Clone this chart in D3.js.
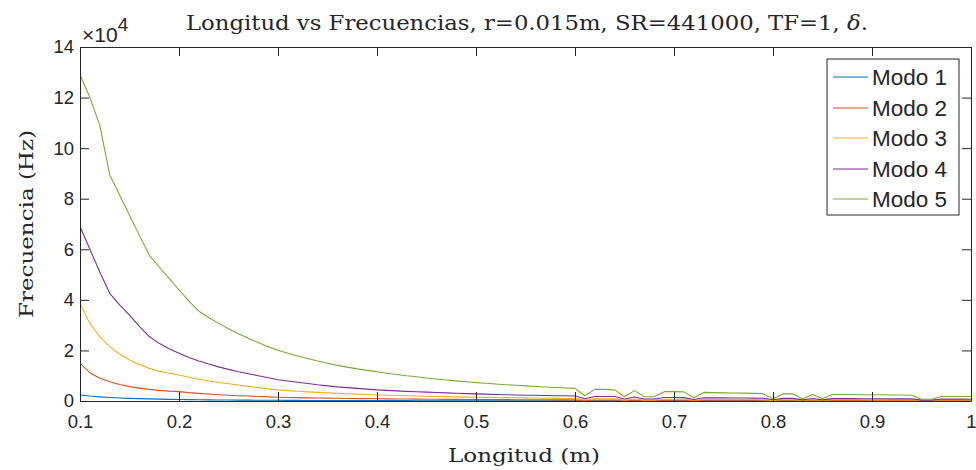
<!DOCTYPE html>
<html>
<head>
<meta charset="utf-8">
<script src="https://d3js.org/d3.v7.min.js"></script>
<style>
  body { margin: 0; background: #fff; }
  svg text { fill: #262626; }
</style>
</head>
<body>
<svg id="chart"></svg>
<script>
var width = 976,
    height = 470

// lengths (m), 0.10 ... 1.00
var longitud = d3.range(91).map(function(i) { return +(0.1 + i * 0.01).toFixed(2) })

// frequencies in kHz
var modo1 = [2.4,1.95,1.65,1.4,1.2,1.05,0.93,0.83,0.74,0.66,0.6,0.55,0.5,0.46,0.42,0.39,0.36,0.33,0.31,0.29,
  0.27,0.25,0.24,0.22,0.21,0.2,0.19,0.18,0.17,0.16,0.15,0.145,0.14,0.13,0.125,0.12,0.115,0.11,0.105,0.1,
  0.1,0.095,0.09,0.088,0.085,0.082,0.08,0.077,0.075,0.072,0.07,
  0.03,0.068,0.068,0.066,0.03,0.065,0.03,0.03,0.064,0.064,0.063,0.03,0.062,0.062,0.061,0.06,0.06,0.06,0.059,
  0.02,0.058,0.058,0.02,0.057,0.02,0.056,0.056,0.056,0.055,0.055,0.055,0.054,0.054,0.054,0.02,0.02,0.052,0.052,0.052,0.052]
var modo2 = [14.9,11.2,9.0,7.6,6.5,5.7,5.1,4.6,4.2,3.9,3.7,3.3,3.0,2.75,2.5,2.3,2.1,1.95,1.8,1.65,
  1.5,1.4,1.32,1.25,1.18,1.12,1.06,1.0,0.95,0.92,0.88,0.84,0.8,0.77,0.74,0.71,0.68,0.66,0.64,0.62,
  0.6,0.58,0.56,0.54,0.52,0.5,0.49,0.47,0.46,0.45,0.44,
  0.2,0.42,0.42,0.41,0.18,0.38,0.17,0.17,0.35,0.35,0.34,0.15,0.32,0.32,0.31,0.3,0.3,0.29,0.28,
  0.13,0.27,0.27,0.12,0.25,0.12,0.25,0.24,0.24,0.24,0.23,0.23,0.22,0.22,0.22,0.1,0.1,0.2,0.2,0.2,0.2]
var modo3 = [38.6,30.7,25.4,21.5,18.6,16.2,14.4,12.9,11.8,11.0,10.3,9.4,8.6,7.9,7.3,6.8,6.3,5.8,5.3,4.8,
  4.4,4.1,3.85,3.6,3.4,3.2,3.0,2.85,2.7,2.55,2.4,2.3,2.2,2.1,2.0,1.9,1.8,1.72,1.65,1.55,
  1.5,1.45,1.4,1.35,1.3,1.25,1.2,1.1,1.05,1.0,0.95,
  0.4,0.9,0.9,0.85,0.35,0.8,0.35,0.35,0.7,0.7,0.7,0.3,0.65,0.65,0.6,0.6,0.6,0.6,0.55,
  0.25,0.55,0.55,0.25,0.5,0.25,0.5,0.5,0.5,0.5,0.45,0.45,0.45,0.45,0.45,0.2,0.2,0.4,0.4,0.4,0.4]
var modo4 = [69,60,51,42.6,38,34,29.5,25.5,22.8,20.7,18.9,17.2,15.8,14.6,13.5,12.5,11.6,10.8,10.0,9.2,
  8.4,7.9,7.4,6.9,6.4,6.0,5.6,5.3,5.0,4.7,4.4,4.2,4.0,3.8,3.65,3.5,3.35,3.2,3.05,2.9,
  2.8,2.7,2.6,2.5,2.4,2.3,2.25,2.2,2.1,2.05,2.0,
  0.9,1.8,1.8,1.75,0.8,1.6,0.8,0.8,1.4,1.4,1.35,0.6,1.3,1.25,1.25,1.2,1.2,1.15,1.1,
  0.5,1.05,1.05,0.45,1.0,0.45,0.95,0.95,0.95,0.9,0.9,0.9,0.85,0.85,0.85,0.35,0.35,0.75,0.75,0.75,0.7]
var modo5 = [129,120,109,89.5,81.5,73.5,65.5,57.7,53,48.5,44,39.5,35.5,33,30.7,28.6,26.6,24.8,23.1,21.5,
  20.1,18.9,17.8,16.8,15.8,14.9,14.1,13.4,12.7,12.1,11.6,11.0,10.5,10.0,9.6,9.1,8.7,8.3,7.95,7.6,
  7.25,7.0,6.7,6.45,6.2,6.0,5.75,5.55,5.35,5.15,5.0,
  2.1,4.6,4.6,4.4,1.7,4.1,1.7,1.7,3.7,3.7,3.6,1.3,3.4,3.3,3.2,3.15,3.1,3.0,2.9,
  0.9,2.8,2.8,0.9,2.6,0.9,2.6,2.6,2.55,2.5,2.5,2.45,2.4,2.4,2.3,0.7,0.7,1.8,1.8,1.8,1.8]

var modos = ["Modo 1", "Modo 2", "Modo 3", "Modo 4", "Modo 5"]
var colores = ["#0072BD", "#D95319", "#EDB120", "#7E2F8E", "#77AC30"]
var xTicks = [0.1, 0.2, 0.3, 0.4, 0.5, 0.6, 0.7, 0.8, 0.9, 1]
var yTicks = [0, 20000, 40000, 60000, 80000, 100000, 120000, 140000]

var series = [modo1, modo2, modo3, modo4, modo5].map(function(vals, k) {
  return {
    name: modos[k],
    color: colores[k],
    values: vals.map(function(v, i) { return { x: longitud[i], y: v * 1000 } })
  }
})

var axisColor = "#262626"
var tickFont = "'Liberation Sans', Arial, sans-serif"
var serifFont = "'DejaVu Serif', 'Liberation Serif', serif"

var svg = d3.select("svg#chart")
  .attr("width", width)
  .attr("height", height)

var x = d3.scaleLinear().domain([0.1, 1]).range([80, 971])
var y = d3.scaleLinear().domain([0, 140000]).range([401, 47])

// lines
svg.append("clipPath").attr("id", "clip")
  .append("rect")
  .attr("x", x(0.1)).attr("y", y(140000))
  .attr("width", x(1) - x(0.1)).attr("height", y(0) - y(140000))

var line = d3.line()
  .x(function(d) { return x(d.x) })
  .y(function(d) { return y(d.y) })

svg.append("g")
  .attr("clip-path", "url(#clip)")
  .selectAll("path")
  .data(series)
  .enter()
  .append("path")
  .attr("fill", "none")
  .attr("stroke", function(d) { return d.color })
  .attr("stroke-width", 1.1)
  .attr("stroke-linejoin", "round")
  .attr("d", function(d) { return line(d.values) })

// axes (box with inward ticks on all sides)
var tickLen = 9

var xAxisB = svg.append("g")
  .attr("transform", "translate(0," + y(0) + ")")
  .call(d3.axisBottom(x).tickValues(xTicks).tickSizeInner(-tickLen).tickSizeOuter(0).tickPadding(14)
    .tickFormat(function(d) { return d === 1 ? "1" : d3.format(".1f")(d) }))
var xAxisT = svg.append("g")
  .attr("transform", "translate(0," + y(140000) + ")")
  .call(d3.axisTop(x).tickValues(xTicks).tickSizeInner(-tickLen).tickSizeOuter(0).tickFormat(""))
var yAxisL = svg.append("g")
  .attr("transform", "translate(" + x(0.1) + ",0)")
  .call(d3.axisLeft(y).tickValues(yTicks).tickSizeInner(-tickLen).tickSizeOuter(0).tickPadding(6)
    .tickFormat(function(d) { return d / 10000 }))
var yAxisR = svg.append("g")
  .attr("transform", "translate(" + x(1) + ",0)")
  .call(d3.axisRight(y).tickValues(yTicks).tickSizeInner(-tickLen).tickSizeOuter(0).tickFormat(""))

;[xAxisB, xAxisT, yAxisL, yAxisR].forEach(function(g) {
  g.select(".domain").attr("stroke", axisColor).attr("stroke-width", 1)
  g.selectAll(".tick line").attr("stroke", axisColor).attr("stroke-width", 1)
  g.selectAll(".tick text")
    .attr("font-family", tickFont)
    .attr("font-size", 18.5)
    .attr("fill", axisColor)
})
xAxisB.selectAll(".tick text").attr("dy", "0.71em")

// exponent marker
var expo = svg.append("text")
  .attr("x", 82)
  .attr("y", 42)
  .attr("font-family", tickFont)
  .attr("font-size", 21)
expo.append("tspan").text("\u00d710")
expo.append("tspan").attr("dy", -11).attr("font-size", 19).text("4")

// title
var title = svg.append("text")
  .attr("x", 186)
  .attr("y", 30)
  .attr("font-family", serifFont)
  .attr("font-size", 20)
  .attr("textLength", 682)
  .attr("lengthAdjust", "spacingAndGlyphs")
title.append("tspan").text("Longitud vs Frecuencias, r=0.015m, SR=441000, TF=1, ")
title.append("tspan").attr("font-style", "italic").text("\u03b4")
title.append("tspan").text(".")

// axis labels
svg.append("text")
  .attr("x", 448)
  .attr("y", 462)
  .attr("font-family", serifFont)
  .attr("font-size", 19)
  .attr("textLength", 152)
  .attr("lengthAdjust", "spacingAndGlyphs")
  .text("Longitud (m)")

svg.append("text")
  .attr("transform", "translate(33,318) rotate(-90)")
  .attr("font-family", serifFont)
  .attr("font-size", 19)
  .attr("textLength", 188)
  .attr("lengthAdjust", "spacingAndGlyphs")
  .text("Frecuencia (Hz)")

// legend
var legend = svg.append("g").attr("transform", "translate(827,59)")
legend.append("rect")
  .attr("width", 132)
  .attr("height", 156)
  .attr("fill", "#fff")
  .attr("stroke", axisColor)
  .attr("stroke-width", 1)

var item = legend.selectAll("g.item")
  .data(series)
  .enter()
  .append("g")
  .attr("class", "item")
  .attr("transform", function(d, i) { return "translate(0," + Math.round(18 + i * 30.5) + ")" })

item.append("line")
  .attr("x1", 6).attr("x2", 41)
  .attr("stroke", function(d) { return d.color })
  .attr("stroke-width", 1.1)

item.append("text")
  .attr("x", 45)
  .attr("dy", "0.36em")
  .attr("font-family", tickFont)
  .attr("font-size", 22.5)
  .attr("fill", "#000")
  .text(function(d) { return d.name })
</script>
</body>
</html>
